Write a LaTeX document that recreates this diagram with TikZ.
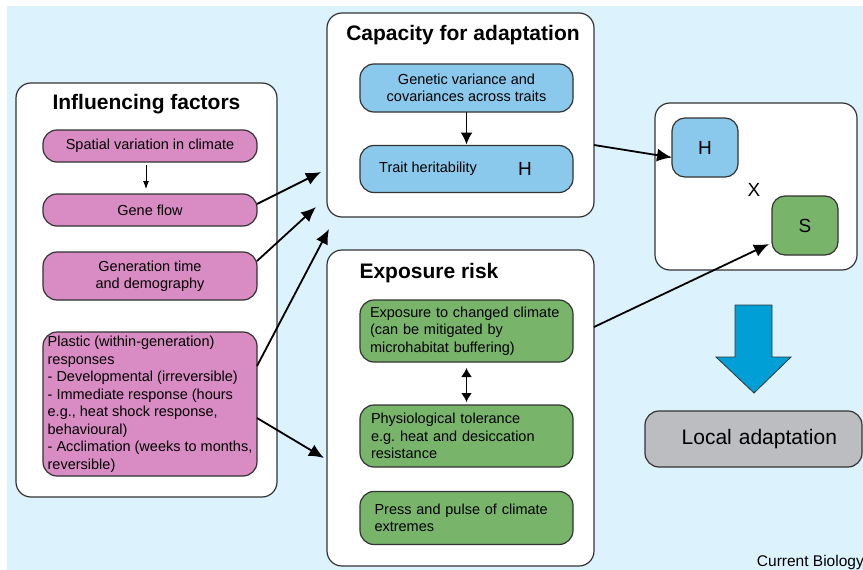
\documentclass[tikz,border=0pt]{standalone}
\usepackage{fontspec}
\setmainfont{Liberation Sans}
\usetikzlibrary{arrows.meta,positioning,calc}
\tikzset{>={Latex[length=15pt,width=13pt]}}
\definecolor{bgblue}{HTML}{DCF3FE}
\definecolor{pinkfill}{HTML}{D98CC3}
\definecolor{bluefill}{HTML}{8BC9EC}
\definecolor{greenfill}{HTML}{79B46B}
\definecolor{grayfill}{HTML}{BBBDC0}
\definecolor{arrowblue}{HTML}{009FD6}
\definecolor{linegray}{HTML}{333333}

\begin{document}
\begin{tikzpicture}[x=1pt,y=-1pt,
    panel/.style={draw=linegray,line width=1.2pt,fill=white,rounded corners=15pt,inner sep=0pt,outer sep=0pt},
    item/.style={draw=linegray,line width=1.2pt,rounded corners=14pt,inner sep=0pt,outer sep=0pt,font=\fontsize{14.5}{17.5}\selectfont},
    heading/.style={font=\fontsize{21}{25}\selectfont\bfseries},
    letter/.style={font=\fontsize{19}{22}\selectfont},
    link/.style={->,line width=1.8pt}]
    \useasboundingbox (0,0) rectangle (863,570);
    \fill [bgblue] (7,6) rectangle (863,570);
    \node [panel,minimum width=261,minimum height=414] (infl) at (146.5,290) {};
    \node [panel,minimum width=267,minimum height=204] (capa) at (460.5,115) {};
    \node [panel,minimum width=267,minimum height=316] (expo) at (460.5,408) {};
    \node [panel,minimum width=202,minimum height=167] (prod) at (756,186.5) {};
    \node [heading] (infltitle) at (146.5,104) {Influencing factors};
    \node [heading] (capatitle) at (463,35) {Capacity for adaptation};
    \node [heading,anchor=west] (expotitle) at (356,273) {Exposure risk};
    \node [item,fill=pinkfill,minimum width=214,minimum height=32] (spat) at (150,146) {Spatial variation in climate};
    \node [item,fill=pinkfill,minimum width=214,minimum height=32] (gene) at (150,210) {Gene flow};
    \node [item,fill=pinkfill,minimum width=214,minimum height=48,align=center] (gent) at (150,276) {Generation time\\and demography};
    \node [item,fill=pinkfill,minimum width=214,minimum height=144,align=left] (plas) at (150,404) {Plastic (within-generation)\\responses\\- Developmental (irreversible)\\- Immediate response (hours\\e.g., heat shock response,\\behavioural)\\- Acclimation (weeks to months,\\reversible)};
    \node [item,fill=bluefill,minimum width=213,minimum height=48,align=center] (genv) at (466.5,88) {Genetic variance and\\covariances across traits};
    \node [item,fill=bluefill,minimum width=213,minimum height=47] (trait) at (466.5,169) {};
    \node [font=\fontsize{14.5}{17.5}\selectfont,anchor=west,inner sep=0pt] (traittxt) at (379,169) {Trait heritability};
    \node [letter] (traith) at (525,169) {H};
    \node [item,fill=greenfill,minimum width=213,minimum height=62,text width=193,align=left] (expc) at (466.5,331) {Exposure to changed climate\\(can be mitigated by\\microhabitat buffering)};
    \node [item,fill=greenfill,minimum width=213,minimum height=62,text width=191,align=left] (phys) at (466.5,436) {Physiological tolerance\\e.g.\ heat and desiccation\\resistance};
    \node [item,fill=greenfill,minimum width=213,minimum height=53,text width=184,align=left] (press) at (466.5,518) {Press and pulse of climate\\extremes};
    \node [item,fill=bluefill,minimum width=66,minimum height=59,rounded corners=13pt,letter] (hbox) at (705,147.5) {H};
    \node [item,fill=greenfill,minimum width=66,minimum height=59,rounded corners=13pt,letter] (sbox) at (805,225.5) {S};
    \node [letter] (times) at (754,190) {X};
    \node [item,fill=grayfill,minimum width=217,minimum height=56,font=\fontsize{21}{25}\selectfont,text width=167,align=right] (local) at (753.5,439) {Local adaptation};
    \node [anchor=base east,inner sep=0pt,font=\fontsize{15.5}{18}\selectfont] (credit) at (864,566) {Current Biology};
    \draw [draw=linegray,line width=0.8pt,fill=arrowblue] (735,305) -- (772,305) -- (772,357) -- (791,357) -- (754,393) -- (716,357) -- (735,357) -- cycle;
    \coordinate (capin1) at (321,172);
    \coordinate (capin2) at (316,207);
    \coordinate (capin3) at (329,229);
    \coordinate (expin) at (324,458);
    \draw [-{Latex[length=8pt,width=6pt]},line width=0.9pt,shorten <=3pt,shorten >=5pt] ([xshift=-4pt]spat.south) -- ([xshift=-4pt]gene.north);
    \draw [-{Latex[length=12pt,width=12pt]},line width=1.8pt,shorten >=1pt] (genv.south) -- (trait.north);
    \draw [{Latex[length=9pt,width=11pt]}-{Latex[length=9pt,width=11pt]},line width=1.6pt,shorten <=6pt,shorten >=3pt] (expc.south) -- (phys.north);
    \draw [link] ([yshift=6pt]gene.east) -- (capin1);
    \draw [link] ([yshift=15pt]gent.east) -- (capin2);
    \draw [link] ([yshift=38pt]plas.east) -- (capin3);
    \draw [link] ([yshift=-14pt]plas.east) -- (expin);
    \draw [link] ([yshift=-30pt]capa.east) -- ([yshift=-10pt]hbox.west);
    \draw [link] ([yshift=81pt]expo.east) -- ([xshift=-3pt,yshift=11pt]sbox.south west);
\end{tikzpicture}
\end{document}
